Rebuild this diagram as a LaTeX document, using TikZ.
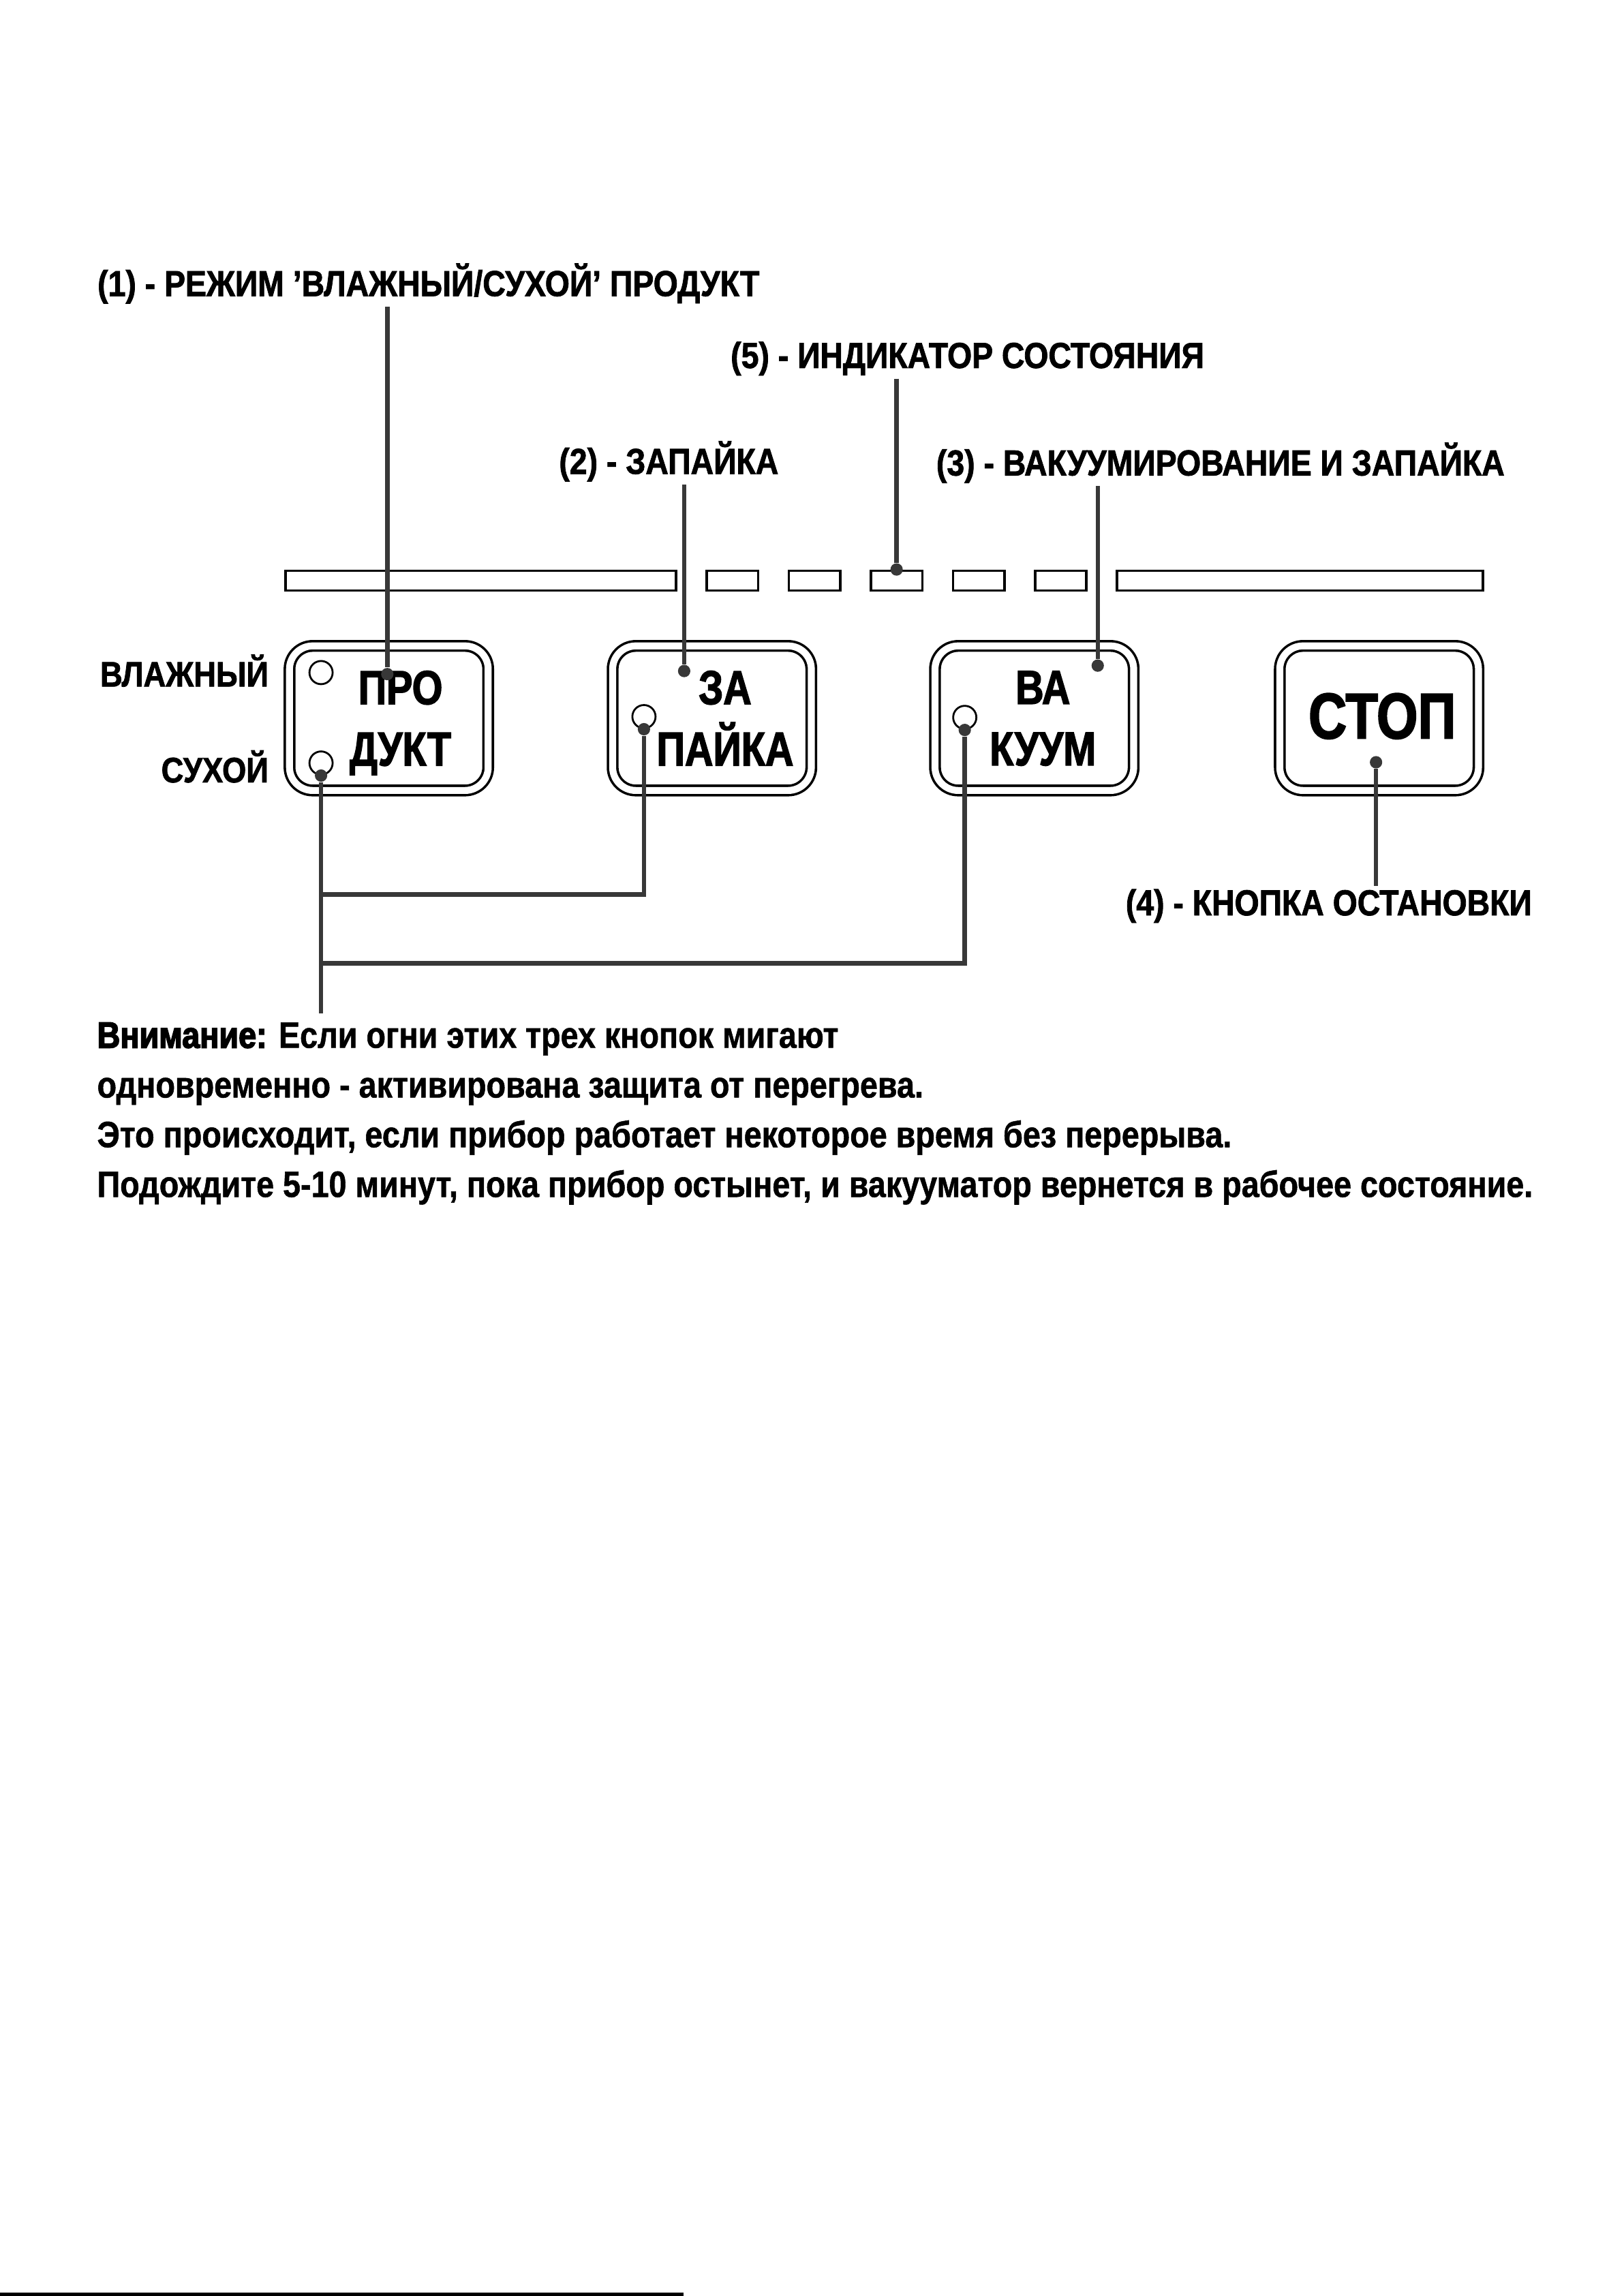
\documentclass[tikz,border=0pt]{standalone}
\usepackage{fontspec}
\setmainfont{Liberation Sans}
\newfontfamily\labelfont[FakeStretch=0.875, BoldFeatures={FakeBold=1.5}]{Liberation Sans}
\newfontfamily\keyfont[FakeStretch=0.82, BoldFeatures={FakeBold=2}]{Liberation Sans}
\newfontfamily\notefont[FakeStretch=0.868, BoldFeatures={FakeBold=1}]{Liberation Sans}
\newfontfamily\heavyfont[FakeStretch=0.868, BoldFeatures={FakeBold=3}]{Liberation Sans}
\usetikzlibrary{positioning}

\begin{document}
\begin{tikzpicture}[
            node distance=0.365cm,
            callout/.style ={font=\labelfont\bfseries\fontsize{13.3}{16}\selectfont, inner sep=1pt},
            side/.style    ={font=\labelfont\bfseries\fontsize{13}{16}\selectfont, inner sep=0pt, anchor=base east},
            segment/.style ={rectangle, draw, line width=0.9pt, minimum width=0.665cm,
                             minimum height=0.255cm, inner sep=0pt},
            button/.style  ={rectangle, rounded corners=0.3cm, draw, line width=0.9pt, double,
                             double distance=0.09cm, minimum width=2.57cm, minimum height=1.87cm},
            keytext/.style ={font=\keyfont\bfseries\fontsize{17.6}{22.6}\selectfont, align=center,
                             inner sep=0pt, text depth=0pt},
            led/.style     ={circle, draw, line width=0.7pt, minimum size=0.3cm, inner sep=0pt},
            dot/.style     ={circle, fill=black!78, minimum size=0.16cm, inner sep=0pt},
            leader/.style  ={draw=black!78, line width=1.6pt},
            note/.style    ={font=\notefont\bfseries\fontsize{13.5}{18.3}\selectfont, align=left, inner sep=0pt}
        ]
        \useasboundingbox (0,0) rectangle (21,-29.7);

        % indicator strip
        \node[segment, minimum width=5.05cm, anchor=west] (barL) at (3.68,-7.51) {};
        \node[segment, right=of barL] (s1) {};
        \node[segment, right=of s1]   (s2) {};
        \node[segment, right=of s2]   (s3) {};
        \node[segment, right=of s3]   (s4) {};
        \node[segment, right=of s4]   (s5) {};
        \node[segment, minimum width=4.73cm, right=of s5] (barR) {};

        % buttons
        \node[button] (prod) at (5.03,-9.29)  {};
        \node[button] (seal) at (9.21,-9.29)  {};
        \node[button] (vac)  at (13.38,-9.29) {};
        \node[button] (stop) at (17.84,-9.29) {};

        \node[keytext] (tprod) at ([xshift=0.15cm]prod.center) {ПРО\\ДУКТ};
        \node[keytext] (tseal) at ([xshift=0.17cm]seal.center) {ЗА\\ПАЙКА};
        \node[keytext] (tvac)  at ([xshift=0.11cm]vac.center)  {ВА\\КУУМ};
        \node[keytext, font=\keyfont\bfseries\fontsize{23.8}{28}\selectfont] (tstop)
              at ([shift={(0.04,0.03)}]stop.center) {СТОП};

        \node[led] (ledw) at ([shift={(-0.877,0.59)}]prod.center)  {};
        \node[led] (ledd) at ([shift={(-0.877,-0.58)}]prod.center) {};
        \node[led] (leds) at ([shift={(-0.88,0.02)}]seal.center)   {};
        \node[led] (ledv) at ([shift={(-0.90,0.01)}]vac.center)    {};

        \node[side] (wet) at (3.48,-8.88)  {ВЛАЖНЫЙ};
        \node[side] (dry) at (3.48,-10.12) {СУХОЙ};

        % callouts
        \node[callout, anchor=base west] (lab1) at (1.22,-3.83)   {(1) - РЕЖИМ ’ВЛАЖНЫЙ/СУХОЙ’ ПРОДУКТ};
        \node[callout, anchor=base west] (lab5) at (9.41,-4.76)   {(5) - ИНДИКАТОР СОСТОЯНИЯ};
        \node[callout, anchor=base west] (lab2) at (7.19,-6.13)   {(2) - ЗАПАЙКА};
        \node[callout, anchor=base west] (lab3) at (12.07,-6.15)  {(3) - ВАКУУМИРОВАНИЕ И ЗАПАЙКА};
        \node[callout, anchor=base west] (lab4) at (14.52,-11.84) {(4) - КНОПКА ОСТАНОВКИ};

        \node[dot] (d1) at (5.01,-8.72)  {};
        \node[dot] (d2) at (8.85,-8.68)  {};
        \node[dot] (d3) at (14.20,-8.61) {};
        \node[dot] (d4) at (17.80,-9.86) {};
        \node[dot] (d5) at (s3.north)    {};

        \draw[leader] (d1 |- lab1.south) -- (d1);
        \draw[leader] (d5 |- lab5.south) -- (d5);
        \draw[leader] (d2 |- lab2.south) -- (d2);
        \draw[leader] (d3 |- lab3.south) -- (d3);
        \draw[leader] (d4) -- (d4 |- lab4.north);

        % lamp wiring
        \node[dot] (wd) at (ledd.south) {};
        \node[dot] (ws) at (leds.south) {};
        \node[dot] (wv) at (ledv.south) {};
        \coordinate (j1)    at (wd |- 0,-11.57);
        \coordinate (j2)    at (wd |- 0,-12.46);
        \coordinate (trunk) at (wd |- 0,-13.11);

        \draw[leader] (wd) -- (trunk);
        \draw[leader] (ws) |- (j1);
        \draw[leader] (wv) |- (j2);

        \node[note, anchor=north west] (warn) at (1.25,-13.22)
            {{\heavyfont Внимание:} Если огни этих трех кнопок мигают\\
             одновременно - активирована защита от перегрева.\\
             Это происходит, если прибор работает некоторое время без перерыва.\\
             Подождите 5-10 минут, пока прибор остынет, и вакууматор вернется в рабочее состояние.};

        \draw[line width=1.2pt] (0,-29.68) -- (8.84,-29.68);
        \end{tikzpicture}
\end{document}
